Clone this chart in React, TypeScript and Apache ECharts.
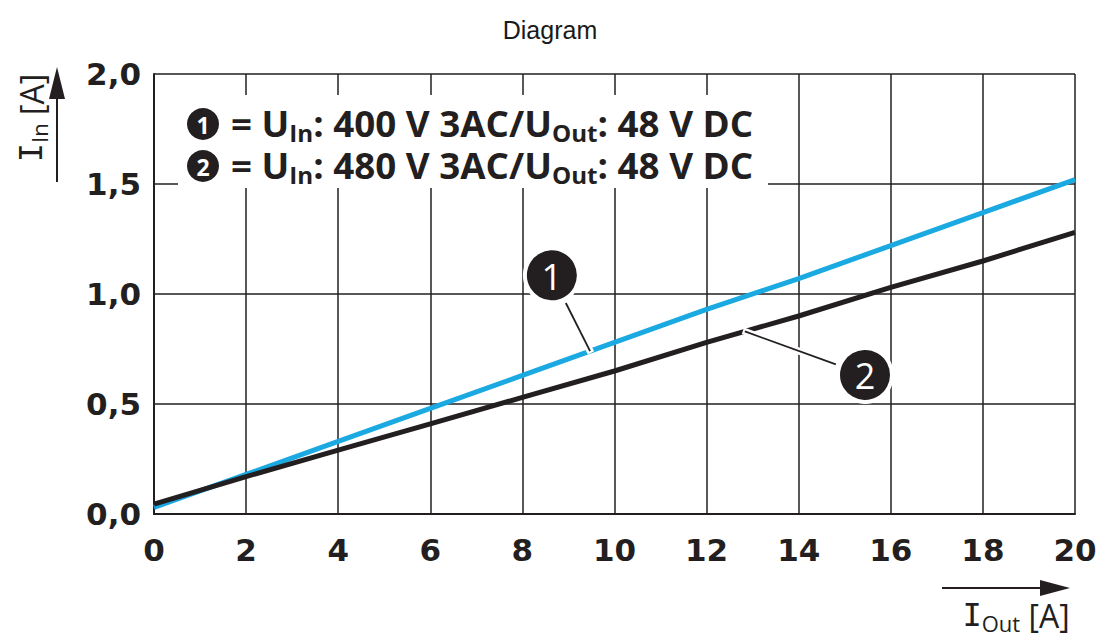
import React, { useEffect, useRef } from "react";
import * as echarts from "echarts";

const xValues = [0, 2, 4, 6, 8, 10, 12, 14, 16, 18, 20];
const series1 = [0.03, 0.18, 0.33, 0.48, 0.63, 0.78, 0.93, 1.07, 1.22, 1.37, 1.52];
const series2 = [0.045, 0.17, 0.29, 0.41, 0.53, 0.65, 0.78, 0.9, 1.03, 1.15, 1.28];
const yTicks = [0, 0.5, 1.0, 1.5, 2.0];
const legendRows = [
  { num: "1", vin: "400" },
  { num: "2", vin: "480" },
];
// callouts: label circle position and where leader touches the curve (x in data units)
const callouts = [
  { num: "1", cx: 8.64, cy: 1.085, tx: 9.47, values: series1 },
  { num: "2", cx: 15.44, cy: 0.632, tx: 12.83, values: series2 },
];

const INK = "#231f20";
const BLUE = "#1aa9e1";

function interp(values: number[], x: number) {
  for (let i = 0; i < xValues.length - 1; i++) {
    if (x >= xValues[i] && x <= xValues[i + 1]) {
      const t = (x - xValues[i]) / (xValues[i + 1] - xValues[i]);
      return values[i] + t * (values[i + 1] - values[i]);
    }
  }
  return values[values.length - 1];
}

export default function App() {
  const ref = useRef<HTMLDivElement>(null);
  useEffect(() => {
    if (!ref.current) return;
    const chart = echarts.init(ref.current, undefined, { renderer: "svg" });
    const axisLabel = {
      fontFamily: "DejaVu Sans",
      fontWeight: "bold" as const,
      fontSize: 31,
      color: INK,
    };
    chart.setOption({
      animation: false,
      title: {
        text: "Diagram",
        left: "center",
        top: 12,
        textStyle: { fontFamily: "Liberation Sans, Arial", fontWeight: "normal", fontSize: 25, color: "#1a1a1a" },
      },
      grid: { left: 154, right: 25, top: 74, bottom: 127 },
      xAxis: {
        type: "value",
        min: 0,
        max: 20,
        interval: 2,
        axisLine: { show: true, lineStyle: { color: INK, width: 2 } },
        axisTick: { show: false },
        splitLine: { show: true, lineStyle: { color: INK, width: 1.5 } },
        axisLabel: { ...axisLabel, margin: 20 },
      },
      yAxis: {
        type: "value",
        min: yTicks[0],
        max: yTicks[yTicks.length - 1],
        interval: 0.5,
        axisLine: { show: true, lineStyle: { color: INK, width: 2 } },
        axisTick: { show: false },
        splitLine: { show: true, lineStyle: { color: INK, width: 1.5 } },
        axisLabel: { ...axisLabel, margin: 13, formatter: (v: number) => v.toFixed(1).replace(".", ",") },
      },
      series: [
        {
          type: "line",
          data: xValues.map((x, i) => [x, series1[i]]),
          showSymbol: false,
          lineStyle: { color: BLUE, width: 5 },
          z: 3,
        },
        {
          type: "line",
          data: xValues.map((x, i) => [x, series2[i]]),
          showSymbol: false,
          lineStyle: { color: INK, width: 5 },
          z: 4,
        },
      ],
    });

    const graphics: any[] = [];
    // legend box
    graphics.push({ type: "rect", shape: { x: 178, y: 95, width: 590, height: 93 }, style: { fill: "#fff" }, z: 50 });
    legendRows.forEach((r, i) => {
      const cy = 124 + i * 42;
      graphics.push({ type: "circle", shape: { cx: 203, cy, r: 16 }, style: { fill: INK }, z: 51 });
      graphics.push({
        type: "text",
        x: 203,
        y: cy + 1,
        style: { text: r.num, fill: "#fff", fontFamily: "Open Sans", fontWeight: "bold", fontSize: 23, align: "center", verticalAlign: "middle" },
        z: 52,
      });
      graphics.push({
        type: "text",
        x: 231,
        y: cy,
        scaleX: 1.05,
        style: {
          text: `{a|= U}{s|In}{a|: ${r.vin} V 3AC/U}{s|Out}{a|: 48 V DC}`,
          verticalAlign: "middle",
          align: "left",
          rich: {
            a: { fontFamily: "Open Sans", fontWeight: "bold", fontSize: 35, lineHeight: 42, fill: INK, color: INK },
            s: { fontFamily: "Open Sans", fontWeight: "bold", fontSize: 23, lineHeight: 22, verticalAlign: "bottom", color: INK, fill: INK },
          },
        },
        z: 52,
      });
    });

    // callouts
    callouts.forEach((c) => {
      const [px, py] = chart.convertToPixel({ gridIndex: 0 }, [c.cx, c.cy]) as number[];
      const [tx, ty] = chart.convertToPixel({ gridIndex: 0 }, [c.tx, interp(c.values, c.tx)]) as number[];
      const r = 27;
      const dx = tx - px, dy = ty - py;
      const len = Math.sqrt(dx * dx + dy * dy);
      const sx = px + ((r + 4) * dx) / len, sy = py + ((r + 4) * dy) / len;
      const ex = tx + (2 * dx) / len, ey = ty + (2 * dy) / len;
      graphics.push({ type: "line", shape: { x1: sx, y1: sy, x2: ex, y2: ey }, style: { stroke: "#fff", lineWidth: 7 }, z: 60 });
      graphics.push({ type: "line", shape: { x1: sx, y1: sy, x2: tx, y2: ty }, style: { stroke: INK, lineWidth: 1.8 }, z: 61 });
      graphics.push({ type: "circle", shape: { cx: px, cy: py, r }, style: { fill: INK, stroke: "#fff", lineWidth: 4 }, z: 62 });
      graphics.push({
        type: "text",
        x: px,
        y: py + 1,
        style: { text: c.num, fill: "#fff", fontFamily: "Open Sans", fontSize: 36, align: "center", verticalAlign: "middle" },
        z: 63,
      });
    });

    const axisNameRich = {
      i: { fontFamily: "DejaVu Sans Mono", fontSize: 32, lineHeight: 38, color: INK, fill: INK },
      s: { fontFamily: "Open Sans", fontSize: 22, lineHeight: 22, verticalAlign: "bottom", color: INK, fill: INK },
      n: { fontFamily: "Open Sans", fontSize: 32, lineHeight: 38, color: INK, fill: INK },
    };
    // axis names and arrows
    graphics.push({
      type: "text",
      x: 31,
      y: 118,
      rotation: Math.PI / 2,
      style: { text: "{i|I}{s|In}{n| [A]}", align: "center", verticalAlign: "middle", rich: axisNameRich },
      z: 50,
    });
    graphics.push({ type: "line", shape: { x1: 57, y1: 182, x2: 57, y2: 95 }, style: { stroke: INK, lineWidth: 2 }, z: 50 });
    graphics.push({ type: "polygon", shape: { points: [[57, 67], [49, 99], [65, 99]] }, style: { fill: INK }, z: 50 });

    graphics.push({ type: "line", shape: { x1: 942, y1: 588, x2: 1045, y2: 588 }, style: { stroke: INK, lineWidth: 2 }, z: 50 });
    graphics.push({ type: "polygon", shape: { points: [[1070, 588], [1040, 580], [1040, 596]] }, style: { fill: INK }, z: 50 });
    graphics.push({
      type: "text",
      x: 1016,
      y: 615,
      style: { text: "{i|I}{s|Out}{n| [A]}", align: "center", verticalAlign: "middle", rich: axisNameRich },
      z: 50,
    });

    chart.setOption({ graphic: graphics });
    return () => chart.dispose();
  }, []);
  return <div ref={ref} style={{ width: 1100, height: 641, position: "absolute", left: 0, top: 0, background: "#fff" }} />;
}
